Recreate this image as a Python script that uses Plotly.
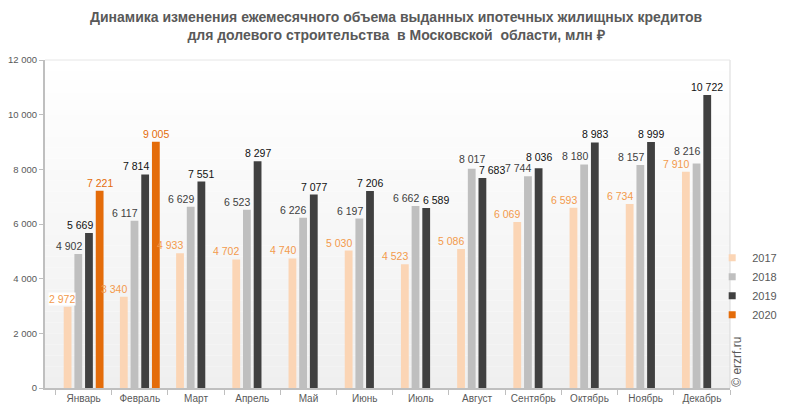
import plotly.graph_objects as go

months = ["Январь", "Февраль", "Март", "Апрель", "Май", "Июнь", "Июль",
          "Август", "Сентябрь", "Октябрь", "Ноябрь", "Декабрь"]
v2017 = [2972, 3340, 4933, 4702, 4740, 5030, 4523, 5086, 6069, 6593, 6734, 7910]
v2018 = [4902, 6117, 6629, 6523, 6226, 6197, 6662, 8017, 7744, 8180, 8157, 8216]
v2019 = [5669, 7814, 7551, 8297, 7077, 7206, 6589, 7683, 8036, 8983, 8999, 10722]
v2020 = [7221, 9005, None, None, None, None, None, None, None, None, None, None]

series = [
    ("2017", v2017, "#FBD5B5", "#F39A4C"),
    ("2018", v2018, "#BFBFBF", "#404040"),
    ("2019", v2019, "#404040", "#111111"),
    ("2020", v2020, "#E46C0A", "#E46C0A"),
]

# label alignment relative to bar (style only): r = right edges aligned, l = left, c = centred
align = {
    "2017": ["r"] * 12,
    "2018": ["r"] * 7 + ["c"] + ["r"] * 4,
    "2019": ["r", "r", "c", "c", "c", "c", "l", "l", "c", "c", "c", "c"],
    "2020": ["c"] * 12,
}
extra_up = {("2019", 8): 3, ("2018", 11): 4, ("2018", 7): 2}

def fmt(v):
    return "" if v is None else f"{v:,}".replace(",", " ")

GAP = 0.24
GROUPGAP = 0.27
# the page adds an 8px body margin on every side, so the figure is 16px smaller
L, R, T, B = 37, 55, 52, 19
W, H = 777, 399
cat_w = (W - L - R) / len(months)
slot = cat_w * (1 - GAP) / len(series)
bar_half = slot * (1 - GROUPGAP) / 2

fig = go.Figure()
annotations = []
for k, (name, vals, col, tcol) in enumerate(series):
    fig.add_trace(go.Bar(
        name=name, x=months, y=vals,
        marker=dict(color=col, line=dict(width=0)),
        hoverinfo="x+y", showlegend=False,
    ))
    off = (k - (len(series) - 1) / 2) * slot
    for i, v in enumerate(vals):
        if v is None:
            continue
        a = align[name][i]
        if a == "r":
            xa, xs = "right", off + bar_half + 0.5
        elif a == "l":
            xa, xs = "left", off - bar_half - 0.5
        else:
            xa, xs = "center", off
        ann = dict(
            x=months[i], y=v, xref="x", yref="y", text=fmt(v), showarrow=False,
            xanchor=xa, yanchor="bottom", xshift=xs, yshift=1 + extra_up.get((name, i), 0),
            font=dict(family="Arial, Liberation Sans", size=10.5, color=tcol),
            borderpad=0,
        )
        if name == "2017" and i == 0:
            ann["bgcolor"] = "white"
            ann["xshift"] = xs + 4
        annotations.append(ann)

# legend-only entries with small square symbols
for name, vals, col, tcol in series:
    fig.add_trace(go.Scatter(
        name=name, x=[months[0]], y=[None], mode="markers",
        marker=dict(symbol="square", size=7, color=col), showlegend=True,
        hoverinfo="skip",
    ))

annotations.append(dict(
    text="© erzrf.ru", xref="paper", yref="paper", x=1.0, y=0.08,
    xanchor="center", yanchor="middle", xshift=7, showarrow=False, textangle=-90,
    font=dict(size=12, color="#595959"),
))

# background gradient in plot area
shapes = []
n = 30
for i in range(n):
    t = i / (n - 1)
    g = int(round(239 + (255 - 239) * t))
    shapes.append(dict(type="rect", xref="paper", yref="paper",
                       x0=0, x1=1, y0=i / n, y1=(i + 1) / n,
                       fillcolor=f"rgb({g},{g},{g})", line=dict(width=0), layer="below"))
shapes.append(dict(type="line", xref="paper", yref="paper", x0=1, x1=1, y0=0, y1=1,
                   line=dict(color="#D9D9D9", width=1)))
shapes.append(dict(type="line", xref="paper", yref="paper", x0=0, x1=1, y0=1, y1=1,
                   line=dict(color="#E6E6E6", width=1)))

fig.update_layout(
    width=W, height=H,
    margin=dict(l=L, r=R, t=T, b=B, autoexpand=False),
    paper_bgcolor="white", plot_bgcolor="white",
    separators=", ",
    barmode="group", bargap=GAP, bargroupgap=GROUPGAP,
    shapes=shapes,
    annotations=annotations,
    title=dict(
        text="Динамика изменения ежемесячного объема выданных ипотечных жилищных кредитов<br>для долевого строительства  в Московской  области, млн ₽",
        x=0.4994, xanchor="center", y=0.965, yanchor="top",
        font=dict(family="Liberation Sans Narrow, Arial Narrow, Arial", size=14, color="#595959", weight="bold"),
    ),
    font=dict(family="Arial, Liberation Sans", color="#595959"),
    xaxis=dict(
        showline=True, linecolor="#BFBFBF", linewidth=2,
        ticks="outside", tickson="boundaries", ticklen=5, tickcolor="#BFBFBF",
        tickfont=dict(size=10, color="#595959"), showgrid=False,
        tickangle=0, automargin=False,
    ),
    yaxis=dict(
        range=[0, 12000], dtick=2000, tickformat=",d",
        showline=True, linecolor="#BFBFBF", linewidth=2,
        ticks="outside", ticklen=4, tickcolor="#BFBFBF",
        tickfont=dict(size=9.5, color="#595959"), showgrid=False, zeroline=False,
        automargin=False,
    ),
    legend=dict(
        x=0.974, xanchor="left", y=0.31, yanchor="middle",
        font=dict(size=11, color="#595959"), itemwidth=30,
        bgcolor="rgba(0,0,0,0)", tracegroupgap=0,
    ),
)

fig.write_html("out.html")
